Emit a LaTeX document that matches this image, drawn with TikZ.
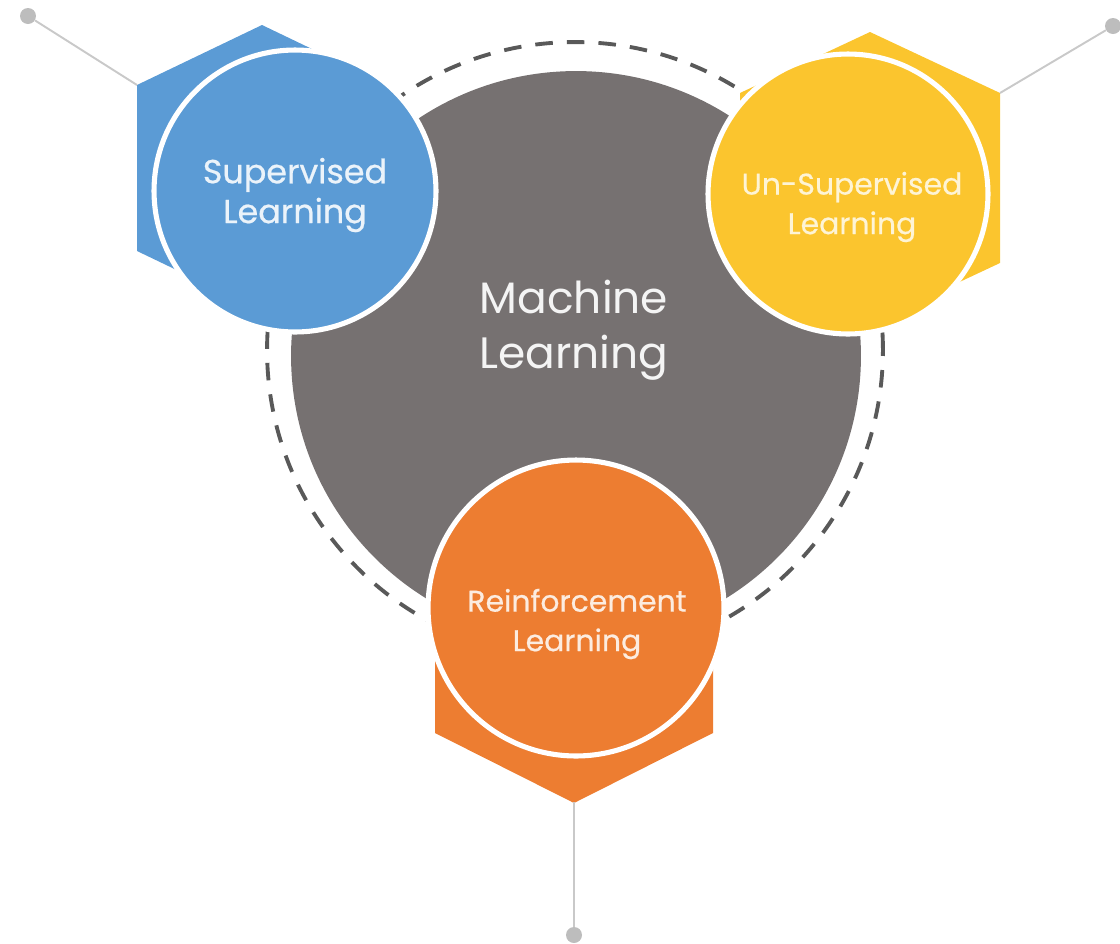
\documentclass[tikz,border=0pt]{standalone}
\usepackage{fontspec}
\setmainfont{Poppins}
\newfontfamily\subfont{Poppins}[FakeBold=0.6]
\usepackage{tikz}

\definecolor{mlgray}{HTML}{767171}
\definecolor{supblue}{HTML}{5B9BD5}
\definecolor{unsyellow}{HTML}{FBC52E}
\definecolor{rlorange}{HTML}{ED7D31}
\definecolor{dashgray}{HTML}{595959}
\definecolor{linkgray}{HTML}{C9C9C9}
\definecolor{dotgray}{HTML}{BDBDBD}

\tikzset{
  dashring/.style={draw=dashgray, line width=2.2pt, dash pattern=on 10pt off 8pt},
  ringbox/.style={circle, draw=white, line width=2.9pt, inner sep=0pt},
  subtext/.style={align=center, font=\subfont\fontsize{17}{22.5}\selectfont},
  link/.style={draw=linkgray, line width=1.1pt},
  enddot/.style={circle, fill=dotgray, inner sep=0pt, minimum size=0.32cm}
}

\begin{document}
\begin{tikzpicture}[x=0.02cm, y=-0.02cm]
\useasboundingbox (0,0) rectangle (1120,944);
%Dashed ring and main circle
\draw[dashring] (575,350) circle[radius=6.16cm];
\node[circle, fill=mlgray, inner sep=0pt, minimum size=11.4cm] (ml) at (576,356) {};
\node[align=center, text=white!92!mlgray, font=\fontsize{25}{31}\selectfont] (mltext) at (574,330) {Machine\\Learning};
%Hexagons behind the small circles
\fill[supblue] (262,168) ++(0,-143) -- ++(125,60) -- ++(0,166) -- ++(-125,60) -- ++(-125,-60) -- ++(0,-166) -- cycle;
\fill[unsyellow] (870,178) ++(0,-146) -- ++(130,61) -- ++(0,170) -- ++(-130,61) -- ++(-130,-61) -- ++(0,-170) -- cycle;
\fill[rlorange] (574,647) ++(0,-156) -- ++(139,70) -- ++(0,172) -- ++(-139,70) -- ++(-139,-70) -- ++(0,-172) -- cycle;
%Connectors
\coordinate (suptip) at (137,85);
\coordinate (unstip) at (1000,93);
\coordinate (rltip) at (574,802);
\node[enddot] (supdot) at (28,16) {};
\node[enddot] (unsdot) at (1113,26) {};
\node[enddot] (rldot) at (574,935) {};
\draw[link] (suptip) -- (supdot);
\draw[link] (unstip) -- (unsdot);
\draw[link] (rltip) -- (rldot);
%Small circles
\node[ringbox, fill=supblue, minimum size=5.64cm] (sup) at (295,191) {};
\node[subtext, text=white!88!supblue, font=\subfont\fontsize{19}{22.7}\selectfont] (suptext) at (295,195) {Supervised\\Learning};
\node[ringbox, fill=unsyellow, minimum size=5.6cm] (uns) at (848,194) {};
\node[subtext, text=white!80!unsyellow] (unstext) at (852,207) {Un-Supervised\\Learning};
\node[ringbox, fill=rlorange, minimum size=5.92cm] (rl) at (576,608) {};
\node[subtext, text=white!85!rlorange] (rltext) at (577,624) {Reinforcement\\Learning};
\end{tikzpicture}
\end{document}
